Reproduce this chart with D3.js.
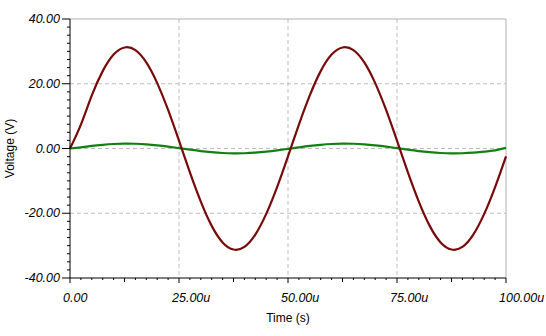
<!DOCTYPE html>
<html>
<head>
<meta charset="utf-8">
<script src="https://cdn.jsdelivr.net/npm/d3@7"></script>
<style>
  body { margin: 0; background: #fff; }
  svg { display: block; }
</style>
</head>
<body>
<script>
// time in microseconds, sampled every 2.5u
const timeUs = [0, 2.5, 5, 7.5, 10, 12.5, 15, 17.5, 20, 22.5,
                25, 27.5, 30, 32.5, 35, 37.5, 40, 42.5, 45, 47.5,
                50, 52.5, 55, 57.5, 60, 62.5, 65, 67.5, 70, 72.5,
                75, 77.5, 80, 82.5, 85, 87.5, 90, 92.5, 95, 97.5, 100];
const redV = [0, 7.4, 16.4, 23.9, 29.0, 31.2, 30.4, 26.6, 20.2, 11.9,
              2.4, -7.4, -16.4, -23.9, -29.0, -31.2, -30.4, -26.6, -20.2, -11.9,
              -2.4, 7.4, 16.4, 23.9, 29.0, 31.2, 30.4, 26.6, 20.2, 11.9,
              2.4, -7.4, -16.4, -23.9, -29.0, -31.2, -30.4, -26.6, -20.2, -11.9, -2.4];
const greenV = [0, 0.35, 0.79, 1.14, 1.39, 1.50, 1.46, 1.28, 0.97, 0.57,
                0.11, -0.35, -0.79, -1.14, -1.39, -1.50, -1.46, -1.28, -0.97, -0.57,
                -0.11, 0.35, 0.79, 1.14, 1.39, 1.50, 1.46, 1.28, 0.97, 0.57,
                0.11, -0.35, -0.79, -1.14, -1.39, -1.50, -1.46, -1.28, -0.97, -0.57, 0.2];
const xTicks = [0, 25, 50, 75, 100];
const yTicks = [-40, -20, 0, 20, 40];

const width = 546;
const height = 336;
const pLeft = 70, pRight = 506, pTop = 19, pBottom = 278;

const x = d3.scaleLinear().domain([0, 100]).range([pLeft, pRight]);
const y = d3.scaleLinear().domain([-40, 40]).range([pBottom, pTop]);

const svg = d3.select("body").append("svg")
    .attr("width", width)
    .attr("height", height)
    .style("font-family", "'Liberation Sans', Arial, sans-serif");

svg.append("rect").attr("width", width).attr("height", height).attr("fill", "#fff");

// grid
svg.append("g").selectAll("line")
    .data(xTicks.filter(d => d > 0 && d < 100))
    .enter().append("line")
    .attr("x1", d => x(d)).attr("x2", d => x(d))
    .attr("y1", pTop).attr("y2", pBottom)
    .attr("stroke", "#bdbdbd").attr("stroke-dasharray", "4,3");
svg.append("g").selectAll("line")
    .data(yTicks.filter(d => d > -40 && d < 40))
    .enter().append("line")
    .attr("x1", pLeft).attr("x2", pRight)
    .attr("y1", d => y(d)).attr("y2", d => y(d))
    .attr("stroke", "#bdbdbd").attr("stroke-dasharray", "4,3");

// frame top / right
svg.append("line").attr("x1", pLeft).attr("x2", pRight).attr("y1", pTop).attr("y2", pTop)
    .attr("stroke", "#b0b0b0");
svg.append("line").attr("x1", pRight).attr("x2", pRight).attr("y1", pTop).attr("y2", pBottom)
    .attr("stroke", "#b0b0b0");

// curves
const line = d3.line().x((d, i) => x(timeUs[i])).y(d => y(d)).curve(d3.curveNatural);
svg.append("path").datum(greenV).attr("d", line)
    .attr("fill", "none").attr("stroke", "#118011").attr("stroke-width", 2.2);
svg.append("path").datum(redV).attr("d", line)
    .attr("fill", "none").attr("stroke", "#780a0a").attr("stroke-width", 2.2);

// x axis with minor ticks
const xMinor = d3.range(0, 101, 2.5);
const xAxis = svg.append("g").attr("transform", `translate(0,${pBottom})`);
xAxis.append("line").attr("x1", pLeft).attr("x2", pRight).attr("stroke", "#000");
xAxis.selectAll("line.t").data(xMinor).enter().append("line").attr("class", "t")
    .attr("x1", d => x(d)).attr("x2", d => x(d))
    .attr("y1", 0).attr("y2", d => d % 25 === 0 ? 5 : (d % 12.5 === 0 ? 4 : 2))
    .attr("stroke", "#000");
xAxis.selectAll("text").data(xTicks).enter().append("text")
    .attr("x", d => x(d) - 7).attr("y", 24)
    .attr("font-size", 12.5).attr("font-style", "italic")
    .text(d => d === 0 ? "0.00" : d.toFixed(2) + "u");

// y axis with minor ticks
const yMinor = d3.range(-40, 40.1, 2.5);
const yAxis = svg.append("g").attr("transform", `translate(${pLeft},0)`);
yAxis.append("line").attr("y1", pTop).attr("y2", pBottom).attr("stroke", "#000");
yAxis.selectAll("line.t").data(yMinor).enter().append("line").attr("class", "t")
    .attr("y1", d => y(d)).attr("y2", d => y(d))
    .attr("x1", 0).attr("x2", d => d % 20 === 0 ? -8 : -3)
    .attr("stroke", "#000");
yAxis.selectAll("text").data(yTicks).enter().append("text")
    .attr("x", -10).attr("y", d => y(d) + 4)
    .attr("text-anchor", "end")
    .attr("font-size", 12.5).attr("font-style", "italic")
    .text(d => d.toFixed(2));

// titles
svg.append("text").attr("x", (pLeft + pRight) / 2).attr("y", 322)
    .attr("text-anchor", "middle").attr("font-size", 12).text("Time (s)");
svg.append("text").attr("transform", `translate(14,${(pTop + pBottom) / 2}) rotate(-90)`)
    .attr("text-anchor", "middle").attr("font-size", 12).text("Voltage (V)");
</script>
</body>
</html>
